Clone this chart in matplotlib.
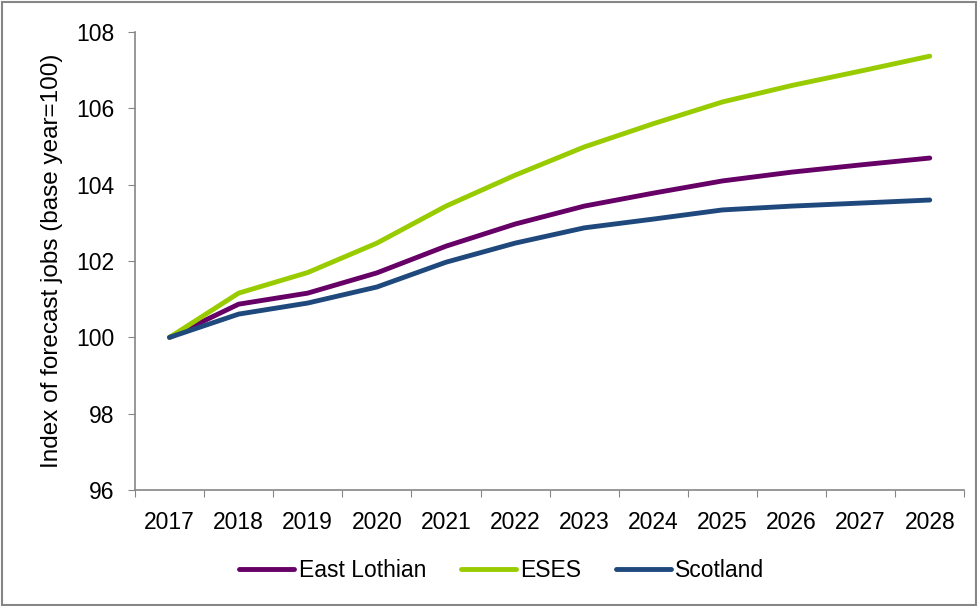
import numpy as np
import matplotlib.pyplot as plt
from matplotlib.patches import Rectangle

plt.rcParams['font.family'] = ['Liberation Sans', 'DejaVu Sans']

years = ['2017', '2018', '2019', '2020', '2021', '2022', '2023', '2024', '2025', '2026', '2027', '2028']
east_lothian = [100.0, 100.87, 101.16, 101.69, 102.39, 102.97, 103.44, 103.78, 104.10, 104.33, 104.52, 104.70]
eses = [100.0, 101.16, 101.70, 102.47, 103.44, 104.25, 104.99, 105.60, 106.17, 106.60, 106.98, 107.37]
scotland = [100.0, 100.61, 100.90, 101.32, 101.97, 102.47, 102.87, 103.10, 103.34, 103.44, 103.52, 103.60]

fig = plt.figure(figsize=(9.78, 6.06), dpi=100)
ax = fig.add_axes([0.138, 0.1914, 0.848, 0.7556])

x = np.arange(len(years))
ax.plot(x, east_lothian, color='#660066', lw=3.5, label='East Lothian', solid_capstyle='round')
ax.plot(x, eses, color='#99CC00', lw=3.5, label='ESES', solid_capstyle='round')
ax.plot(x, scotland, color='#1F497D', lw=3.5, label='Scotland', solid_capstyle='round')

ax.set_xlim(-0.5, len(years) - 0.5)
ax.set_ylim(96, 108)
ax.set_yticks(np.arange(96, 109, 2))
ax.tick_params(axis='y', labelsize=16.5, direction='out', length=5, color='#868686', pad=10)

# boundaries between categories get the tick marks, centres get the labels
ax.set_xticks(np.arange(-0.5, len(years), 1))
ax.set_xticklabels([])
ax.tick_params(axis='x', which='major', direction='out', length=5, color='#868686')
ax.set_xticks(x, minor=True)
ax.set_xticklabels(years, minor=True)
ax.tick_params(axis='x', which='minor', length=0, labelsize=16.5, pad=15)

for s in ['top', 'right']:
    ax.spines[s].set_visible(False)
for s in ['left', 'bottom']:
    ax.spines[s].set_color('#868686')
    ax.spines[s].set_linewidth(1.2)

ax.set_ylabel('Index of forecast jobs (base year=100)', fontsize=17.5, labelpad=9)

leg = fig.legend(loc='center', bbox_to_anchor=(0.513, 0.058), ncol=3, frameon=False,
                 fontsize=16.5, handlelength=2.4, handletextpad=0.2, columnspacing=1.5)

fig.patches.append(Rectangle((0.002, 0.002), 0.996, 0.994, transform=fig.transFigure,
                             fill=False, edgecolor='#868686', lw=1.5))

fig.savefig('out.png', dpi=100)
